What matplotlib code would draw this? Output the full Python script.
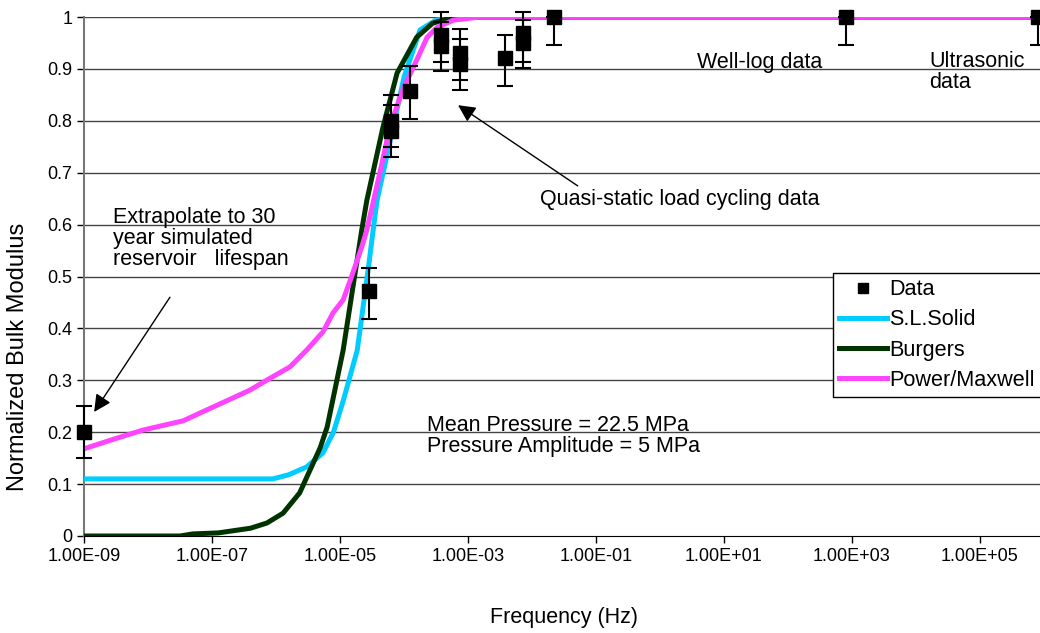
import numpy as np
import matplotlib
matplotlib.use('Agg')
import matplotlib.pyplot as plt
from matplotlib.lines import Line2D

plt.rcParams['font.family'] = ['Liberation Sans', 'DejaVu Sans']

# model curves (frequency in Hz, normalized bulk modulus)
sls_f = [1e-9, 3.2e-7, 8.9e-7, 1.58e-6, 3.0e-6, 5.4e-6, 7.9e-6, 1.12e-5, 1.86e-5,
         2.8e-5, 3.3e-5, 3.8e-5, 6.3e-5, 1.0e-4, 1.78e-4, 3.16e-4, 6.3e-4, 1e6]
sls_k = [0.11, 0.11, 0.11, 0.118, 0.133, 0.16, 0.2, 0.26, 0.358,
         0.52, 0.59, 0.647, 0.77, 0.884, 0.975, 0.994, 1.0, 1.0]

burgers_f = [1e-9, 3.16e-8, 5.0e-8, 1.26e-7, 4.0e-7, 7.2e-7, 1.29e-6, 2.34e-6, 3.4e-6,
             4.9e-6, 6.3e-6, 1.12e-5, 2.19e-5, 2.63e-5, 4.7e-5, 7.8e-5, 1.58e-4,
             2.8e-4, 5.2e-4, 1e-3, 1e6]
burgers_k = [0, 0, 0.004, 0.006, 0.015, 0.025, 0.044, 0.083, 0.127,
             0.17, 0.21, 0.358, 0.59, 0.647, 0.788, 0.892, 0.961,
             0.988, 0.998, 1.0, 1.0]

power_f = [1e-9, 3.16e-9, 8.3e-9, 3.55e-8, 1.2e-7, 3.9e-7, 8.1e-7, 1.66e-6, 3.0e-6,
           5.4e-6, 7.8e-6, 1.12e-5, 1.45e-5, 2.19e-5, 2.63e-5, 4.2e-5, 6.0e-5,
           9.5e-5, 1.58e-4, 2.3e-4, 3.3e-4, 5.9e-4, 1.55e-3, 1e6]
power_k = [0.168, 0.188, 0.204, 0.222, 0.252, 0.281, 0.304, 0.326, 0.358,
           0.393, 0.43, 0.455, 0.493, 0.557, 0.59, 0.70, 0.788,
           0.859, 0.917, 0.961, 0.98, 0.994, 1.0, 1.0]

# measured data with error bar ends
data_f = [1e-9, 2.8e-5, 6.3e-5, 6.3e-5, 1.24e-4, 3.8e-4, 3.8e-4, 7.5e-4, 7.5e-4,
          3.8e-3, 7.2e-3, 7.2e-3, 0.022, 800, 8e5]
data_k = [0.20, 0.472, 0.80, 0.78, 0.857, 0.965, 0.945, 0.93, 0.91,
          0.921, 0.97, 0.95, 1.0, 1.0, 1.0]
data_lo = [0.15, 0.418, 0.75, 0.73, 0.803, 0.913, 0.896, 0.879, 0.859,
           0.867, 0.913, 0.902, 0.946, 0.946, 0.946]
data_hi = [0.25, 0.516, 0.85, 0.83, 0.906, 1.01, 0.99, 0.977, 0.958,
           0.965, 1.01, 0.995, 1.0, 1.0, 1.0]

xticks = [1e-9, 1e-7, 1e-5, 1e-3, 1e-1, 1e1, 1e3, 1e5]
yticks = [0, 0.1, 0.2, 0.3, 0.4, 0.5, 0.6, 0.7, 0.8, 0.9, 1.0]

fig = plt.figure(figsize=(10.4, 6.33), dpi=100)
ax = fig.add_axes([84 / 1040, 97 / 633, 960 / 1040, 519 / 633])

for y in yticks[1:]:
    ax.axhline(y, color='#444444', lw=1, zorder=1)

ax.plot(sls_f, sls_k, color='#00CCFF', lw=3.6, zorder=3, label='S.L.Solid')
ax.plot(burgers_f, burgers_k, color='#003300', lw=3.6, zorder=3, label='Burgers')
ax.plot(power_f, power_k, color='#FF44FF', lw=3.6, zorder=3, label='Power/Maxwell')

k = np.array(data_k)
yerr = [k - np.array(data_lo), np.array(data_hi) - k]
ax.errorbar(data_f, data_k, yerr=yerr, fmt='s', color='black', ms=9.5,
            capsize=6, elinewidth=1.5, capthick=1.5, clip_on=False, zorder=5)

ax.set_xscale('log')
ax.set_xlim(1e-9, 1e6)
ax.set_ylim(0, 1)
ax.set_xticks(xticks)
ax.set_xticklabels([f"{v:.2E}" for v in xticks])
ax.set_yticks(yticks)
ax.set_yticklabels([f"{v:g}" for v in yticks])
ax.xaxis.set_minor_locator(matplotlib.ticker.NullLocator())
ax.tick_params(labelsize=13, length=5, width=1, direction='out')

for side in ['top', 'right']:
    ax.spines[side].set_visible(False)
ax.spines['left'].set_color('#777777')
ax.spines['left'].set_linewidth(1.5)
ax.spines['bottom'].set_color('black')

fig.text(564 / 1040, 1 - 617 / 633, 'Frequency (Hz)', fontsize=15.5,
         ha='center', va='center')
fig.text(18 / 1040, 1 - 357 / 633, 'Normalized Bulk Modulus', fontsize=17,
         ha='center', va='center', rotation=90)

# annotations
fs = 15.5
ax.text(3.8, 0.913, 'Well-log data', fontsize=fs, va='center')
ax.text(1.6e4, 0.894, 'Ultrasonic\ndata', fontsize=fs, va='center', linespacing=1.0)
ax.text(2.3e-4, 0.193, 'Mean Pressure = 22.5 MPa\nPressure Amplitude = 5 MPa',
        fontsize=fs, va='center', linespacing=1.0)
ax.annotate('Quasi-static load cycling data', xy=(7e-4, 0.830), xytext=(0.0133, 0.649),
            fontsize=fs, va='center',
            arrowprops=dict(arrowstyle='-|>', color='black', lw=1,
                            mutation_scale=26, shrinkA=0, shrinkB=0,
                            relpos=(0.15, 1.0)))
ax.text(2.8e-9, 0.574, 'Extrapolate to 30\nyear simulated\nreservoir   lifespan',
        fontsize=fs, va='center', linespacing=1.0)
ax.annotate('', xy=(1.44e-9, 0.239), xytext=(2.2e-8, 0.460),
            arrowprops=dict(arrowstyle='-|>', color='black', lw=1,
                            mutation_scale=26, shrinkA=0, shrinkB=0))

# legend: square marker only for the data, then the three models
handles = [Line2D([], [], ls='none', marker='s', color='black', ms=7.5, label='Data')]
handles += [l for l in ax.get_lines() if l.get_label() in ('S.L.Solid', 'Burgers', 'Power/Maxwell')]
leg = ax.legend(handles=handles, loc='upper left', bbox_to_anchor=(0.780, 0.507),
                fontsize=15.6, frameon=True, fancybox=False, edgecolor='black',
                framealpha=1, borderaxespad=0, borderpad=0.3, labelspacing=0.42,
                handlelength=2.2, handletextpad=0.1)
leg.get_frame().set_linewidth(1)
leg.set_zorder(6)

fig.savefig('out.png', dpi=100)
